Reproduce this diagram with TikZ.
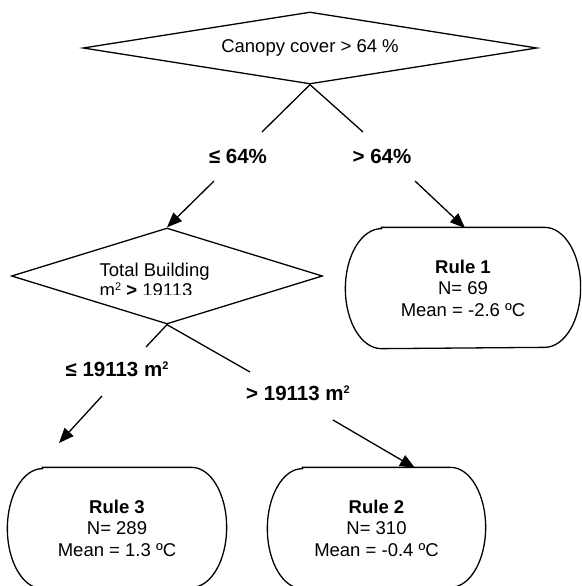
\documentclass[tikz,border=0pt]{standalone}
\usepackage{fontspec}
\setmainfont{Liberation Sans}
\usetikzlibrary{shapes.geometric,arrows.meta}
\newcommand{\sqsup}{\raisebox{6.5pt}{\fontsize{11pt}{12pt}\selectfont 2}}
\begin{document}
\begin{tikzpicture}[x=1pt,y=-1pt,line width=1.3pt,
  every node/.style={font=\fontsize{18.5pt}{21.5pt}\selectfont},
  decbox/.style={diamond,draw,inner sep=0pt},
  txt/.style={inner sep=0pt},
  lbl/.style={font=\fontsize{20.5pt}{23pt}\selectfont\bfseries,inner sep=0pt},
  arr/.style={-{Triangle[length=15pt,width=12pt]}},
  rulebox/.style={inner sep=0pt,align=center,minimum height=120pt}]
\useasboundingbox (0,0) rectangle (581,586);
\clip (0,0) rectangle (581,586);

% decision 1
\node[decbox,minimum width=454pt,minimum height=72pt] (d1) at (310,48) {};
\node[txt] (t1) at (310,48) {Canopy cover > 64 \%};

% decision 2
\node[decbox,minimum width=311pt,minimum height=96pt] (d2) at (167,276) {};
\node[txt,anchor=base west] (t2a) at (99,276) {Total Building};
\begin{scope}
\clip (0,0) rectangle (581,294);
\node[txt,anchor=base west] (t2b) at (99,296.5) {m\sqsup{} \textbf{>} 19113};
\end{scope}

% leaves
\node[rulebox,minimum width=234pt] (r1) at (463,288)
  {\textbf{Rule 1}\\N= 69\\Mean = -2.6 ºC};
\node[rulebox,minimum width=218pt] (r3) at (117,528)
  {\textbf{Rule 3}\\N= 289\\Mean = 1.3 ºC};
\node[rulebox,minimum width=217pt] (r2) at (376.5,528)
  {\textbf{Rule 2}\\N= 310\\Mean = -0.4 ºC};

\foreach \r/\k in {r1/36pt,r3/35pt,r2/35pt}{
  \draw ([xshift=\k]\r.north west) -- ([xshift=-\k]\r.north east)
    arc[start angle=90,end angle=-90,x radius=\k,y radius=60pt]
    -- ([xshift=\k]\r.south west)
    arc[start angle=270,end angle=90,x radius=\k,y radius=60pt] -- cycle;
}

% branch labels
\node[lbl] (l1) at (238,156) {≤ 64\%};
\node[lbl] (g1) at (382,156) {> 64\%};
\node[lbl] (l2) at (117,369) {≤ 19113 m\sqsup};
\node[lbl] (g2) at (298,393) {> 19113 m\sqsup};

% connector end points
\coordinate (a1) at (262,132);
\coordinate (b1) at (363,132);
\coordinate (a2) at (214,181);
\coordinate (b2) at (415,181);
\coordinate (c1) at (146,347);
\coordinate (e1) at (250,372);
\coordinate (c2) at (102,396);
\coordinate (e2) at (333,420);
\coordinate (c3) at (59,443);
\coordinate (e3) at (415,468);
\coordinate (r1top) at (465,228);

\draw (d1.south) -- (a1);
\draw (d1.south) -- (b1);
\draw[arr] (a2) -- (d2.north);
\draw[arr] (b2) -- (r1top);
\draw (d2.south) -- (c1);
\draw (d2.south) -- (e1);
\draw[arr] (c2) -- (c3);
\draw[arr] (e2) -- (e3);
\end{tikzpicture}
\end{document}
